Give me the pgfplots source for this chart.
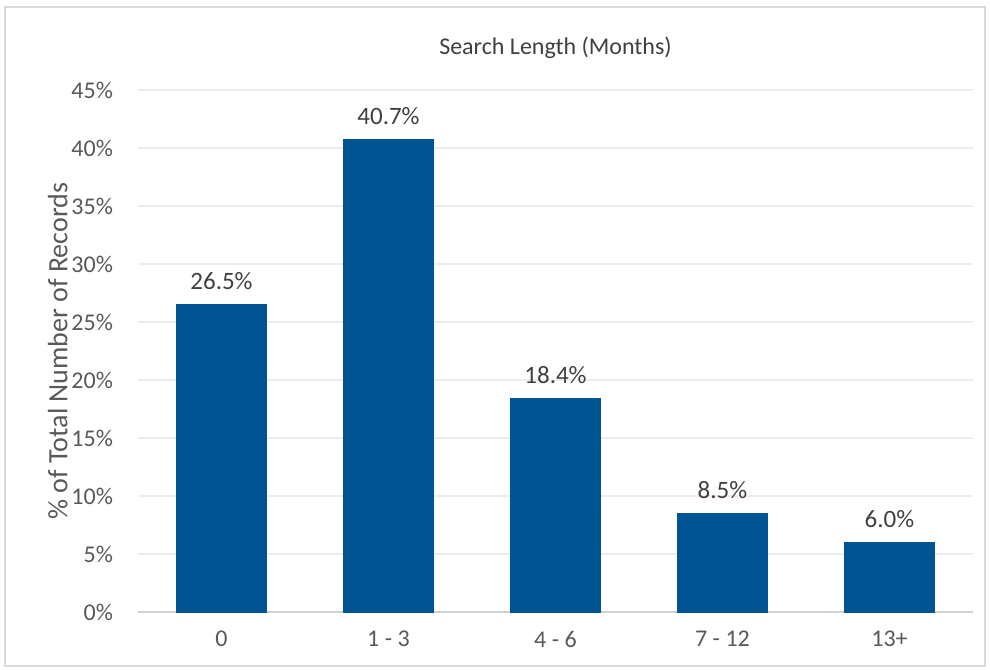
\documentclass[border=0pt]{standalone}
\usepackage{pgfplots}
\pgfplotsset{compat=1.18}
\usepackage{fontspec}
\setmainfont{Carlito}
\definecolor{barblue}{HTML}{005493}
\definecolor{tickgray}{HTML}{595959}
\definecolor{labgray}{HTML}{404040}
\begin{document}
\begin{tikzpicture}
\useasboundingbox (0pt,0pt) rectangle (495pt,334.5pt);
\draw[color=black!15, line width=0.8pt] (2.5pt,1.5pt) rectangle (492.5pt,331pt);
\begin{axis}[
  at={(69pt,28.5pt)}, anchor=south west,
  scale only axis, width=417.5pt, height=261pt,
  ymin=0, ymax=45, ytick={0,5,...,45},
  yticklabel={\pgfmathprintnumber{\tick}\%},
  xmin=-0.5, xmax=4.5,
  xtick=data, xticklabels={0,1 - 3,4 - 6,7 - 12,13+},
  ybar, bar width=45pt,
  ymajorgrids, grid style={draw=black!7, line width=0.6pt},
  axis x line*=bottom, axis y line*=left,
  y axis line style={draw=none},
  x axis line style={draw=black!18, line width=0.7pt, -},
  major tick length=0pt,
  tick label style={font=\fontsize{12}{14}\selectfont, text=tickgray},
  yticklabel style={xshift=-9pt},
  xticklabel style={yshift=-6pt},
  /pgf/number format/assume math mode=true,
  ylabel={\% of Total Number of Records},
  ylabel style={font=\fontsize{14}{16}\selectfont, text=tickgray, yshift=-5pt},
  title={Search Length (Months)},
  title style={font=\fontsize{12}{14}\selectfont, text=labgray, yshift=6pt},
  nodes near coords={\pgfmathprintnumber[fixed,fixed zerofill,precision=1]{\pgfplotspointmeta}\%},
  nodes near coords style={font=\fontsize{12.5}{14}\selectfont, text=labgray, yshift=4pt, /pgf/number format/assume math mode=true},
  clip=false,
]
\addplot[fill=barblue, draw=barblue] coordinates {(0,26.5) (1,40.7) (2,18.4) (3,8.5) (4,6.0)};
\end{axis}
\end{tikzpicture}
\end{document}
